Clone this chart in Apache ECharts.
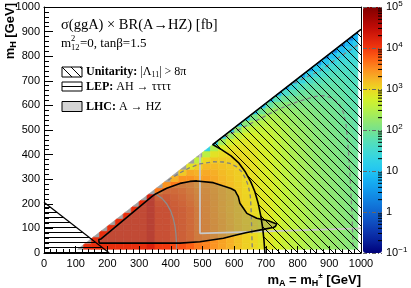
<!DOCTYPE html>
<html><head><meta charset="utf-8">
<script src="https://cdn.jsdelivr.net/npm/echarts@6/dist/echarts.min.js"></script>
<style>html,body{margin:0;padding:0;background:#fff}#c{width:411px;height:288px}</style>
</head><body><div id="c"></div>
<script>
// ---------- DATA ----------
const mACenters = [112.5,137.5,162.5,187.5,212.5,237.5,262.5,287.5,312.5,337.5,362.5,387.5,412.5,437.5,462.5,487.5,512.5,537.5,562.5,587.5,612.5,637.5,662.5,687.5,712.5,737.5,762.5,787.5,812.5,837.5,862.5,887.5,912.5,937.5,962.5,987.5];
const mHCenters = [27.5,52.5,77.5,102.5,127.5,152.5,177.5,202.5,227.5,252.5,277.5,302.5,327.5,352.5,377.5,402.5,427.5,452.5,477.5,502.5,527.5,552.5,577.5,602.5,627.5,652.5,677.5,702.5,727.5,752.5,777.5,802.5,827.5,852.5,877.5,902.5];
// log10(sigma x BR / fb), one list per mA column, from low mH upwards (-2 = grey edge cell)
const logSigmaByMA = [
 [-2],
 [4.1,-2],
 [4.1,4.1,-2],
 [4.1,4.1,4.1,-2],
 [4.1,4.1,4.1,4.1,-2],
 [4.1,4.1,4.1,4.1,4.1,-2],
 [4.1,4.1,4.1,4.1,4.1,4.1,-2],
 [4.1,4.1,4.1,4.1,4.1,4.1,4.1,-2],
 [4.1,4.1,4.1,4.1,4.1,4.1,4.1,4.1,-2],
 [4.25,4.25,4.25,4.25,4.25,4.25,4.25,4.25,4.25,-2],
 [4.0,4.0,4.0,4.0,4.0,4.0,4.0,3.95,3.85,3.6,-2],
 [4.0,4.0,4.0,4.0,4.0,4.0,4.0,3.95,3.9,3.75,3.45,-2],
 [3.9,3.9,3.9,3.9,3.9,3.9,3.9,3.86,3.82,3.75,3.6,3.25,-2],
 [3.85,3.85,3.85,3.85,3.85,3.85,3.85,3.8,3.75,3.7,3.6,3.45,3.1,-2],
 [3.75,3.75,3.75,3.75,3.75,3.75,3.75,3.7,3.65,3.6,3.55,3.45,3.3,2.9,-2],
 [3.6,3.6,3.6,3.6,3.6,3.6,3.6,3.55,3.52,3.48,3.42,3.35,3.25,3.05,2.6,-2],
 [3.55,3.55,3.54,3.53,3.52,3.51,3.5,3.49,3.47,3.45,3.42,3.37,3.3,3.2,3.0,2.55,1.3],
 [3.45,3.45,3.44,3.43,3.42,3.41,3.4,3.39,3.38,3.36,3.34,3.31,3.27,3.2,3.1,2.9,2.45,1.25],
 [3.35,3.35,3.34,3.33,3.32,3.31,3.29,3.28,3.27,3.26,3.24,3.22,3.19,3.15,3.08,2.98,2.78,2.35,1.2],
 [3.25,3.25,3.24,3.23,3.22,3.21,3.2,3.2,3.19,3.18,3.17,3.15,3.13,3.1,3.06,3.0,2.9,2.7,2.3,1.15],
 [3.15,3.15,3.14,3.13,3.12,3.12,3.11,3.11,3.1,3.1,3.09,3.08,3.07,3.05,3.02,2.98,2.92,2.82,2.62,2.22,1.1],
 [3.05,3.05,3.05,3.05,3.04,3.04,3.04,3.03,3.03,3.02,3.02,3.01,3.0,2.99,2.97,2.94,2.9,2.85,2.75,2.55,2.15,1.05],
 [3.0,3.0,2.99,2.99,2.98,2.98,2.97,2.97,2.96,2.96,2.95,2.94,2.93,2.92,2.9,2.88,2.85,2.81,2.75,2.65,2.45,2.05,1.0],
 [2.9,2.9,2.89,2.89,2.88,2.88,2.87,2.86,2.86,2.85,2.84,2.83,2.82,2.81,2.8,2.78,2.76,2.73,2.68,2.62,2.52,2.32,1.95,0.95],
 [2.85,2.85,2.84,2.84,2.83,2.83,2.82,2.81,2.81,2.8,2.79,2.78,2.77,2.76,2.74,2.73,2.71,2.69,2.66,2.61,2.54,2.44,2.24,1.88,0.9],
 [2.75,2.75,2.74,2.74,2.73,2.73,2.72,2.71,2.71,2.7,2.69,2.68,2.67,2.66,2.65,2.63,2.62,2.6,2.57,2.53,2.48,2.41,2.3,2.1,1.75,0.82],
 [2.65,2.65,2.64,2.64,2.63,2.63,2.62,2.61,2.61,2.6,2.59,2.58,2.57,2.56,2.55,2.53,2.52,2.5,2.47,2.44,2.4,2.35,2.27,2.15,1.95,1.6,0.75],
 [2.57,2.57,2.56,2.56,2.55,2.54,2.53,2.52,2.51,2.5,2.49,2.48,2.47,2.46,2.44,2.43,2.41,2.39,2.37,2.34,2.3,2.26,2.2,2.12,2.0,1.8,1.45,0.65],
 [2.5,2.5,2.49,2.49,2.48,2.47,2.46,2.45,2.44,2.43,2.42,2.41,2.4,2.38,2.37,2.35,2.34,2.32,2.3,2.27,2.24,2.2,2.16,2.1,2.02,1.9,1.7,1.35,0.6],
 [2.42,2.42,2.41,2.41,2.4,2.39,2.38,2.37,2.36,2.35,2.34,2.33,2.32,2.31,2.3,2.28,2.26,2.25,2.23,2.21,2.19,2.16,2.12,2.07,2.01,1.93,1.8,1.6,1.25,0.52],
 [2.36,2.36,2.35,2.35,2.34,2.33,2.32,2.31,2.3,2.29,2.28,2.27,2.25,2.24,2.22,2.21,2.19,2.18,2.16,2.14,2.12,2.1,2.07,2.03,1.98,1.92,1.83,1.7,1.5,1.15,0.45],
 [2.3,2.3,2.29,2.29,2.28,2.27,2.26,2.25,2.24,2.23,2.22,2.21,2.19,2.18,2.16,2.15,2.13,2.12,2.11,2.09,2.07,2.05,2.02,1.99,1.95,1.9,1.84,1.75,1.62,1.42,1.08,0.4],
 [2.25,2.25,2.24,2.24,2.23,2.22,2.21,2.2,2.19,2.18,2.17,2.16,2.15,2.13,2.12,2.1,2.09,2.07,2.05,2.04,2.02,2.0,1.98,1.95,1.92,1.88,1.83,1.77,1.68,1.55,1.35,1.0,0.35],
 [2.2,2.2,2.19,2.19,2.18,2.17,2.16,2.15,2.14,2.13,2.12,2.11,2.1,2.09,2.07,2.06,2.04,2.03,2.01,1.99,1.97,1.95,1.93,1.91,1.88,1.84,1.8,1.75,1.69,1.6,1.47,1.27,0.93,0.3],
 [2.15,2.15,2.14,2.14,2.13,2.12,2.11,2.1,2.09,2.08,2.07,2.06,2.05,2.04,2.02,2.01,1.99,1.97,1.95,1.93,1.91,1.89,1.86,1.84,1.81,1.78,1.74,1.7,1.65,1.59,1.5,1.38,1.19,0.86,0.25],
 [2.1,2.1,2.09,2.08,2.07,2.06,2.05,2.04,2.03,2.02,2.01,2.0,1.99,1.97,1.95,1.94,1.92,1.9,1.88,1.86,1.84,1.82,1.8,1.78,1.75,1.72,1.69,1.65,1.61,1.56,1.5,1.42,1.3,1.12,0.8,0.2]
];
// LHC A->HZ excluded contour
const lhcMA = [174,173,180,180,340,352,387,429,460,482,534,566,590,603,608,613,618,629,640,671,708,734,730,723,692,640,600,566,492,429,174];
const lhcMH = [40,55,57,64,229,240,263,283,291,293,286,272,262,253,240,229,202,182,161,141,131,118,108,104,96,83,71,60,46,40,40];
// Unitarity boundary (threshold edge + curve)
const uniMA = [1000,532,560,590,615,635,652,665,676,684,690,694,697];
const uniMH = [909,441,420,395,365,330,290,250,200,150,100,50,0];
// LEP boundary
const lepMA = [0,206];
const lepMH = [206,0];
// light grey frame
const boxMA = [492,492,1000];
const boxMH = [401,80,100];
// grey dashed / solid curves
const d1MA = [392,429,460,492,534,565,587,608,624,637,645,651,653,655,657];
const d1MH = [296,326,347,362,371,370,364,350,330,300,270,230,188,107,15];
const d2MA = [570,620,680,740,800,850,880,905,930,945,953,960,966,972,975];
const d2MH = [472,505,545,585,615,635,640,632,608,570,520,420,300,150,15];
const d3MA = [770,820,870,930,990];
const d3MH = [679,710,740,795,845];
const g1MA = [352,372,387,400,408,413,416,418,418];
const g1MH = [240,222,200,170,140,110,80,40,15];
// colour-bar decades and minor tick multipliers
const cbDecades = [-1,0,1,2,3,4];
const cbMinorMult = [2,3,4,5,6,7,8,9];

// ---------- STYLE / HELPERS ----------
const MZ = 91, HALF = 12.5, MA_MAX = 990, MH_MIN = 15, EDGE_GREY = '#a0a0a0';
const palette = ['#00007a','#061c96','#0c34ad','#0f4ec0','#1066d0','#117ede','#1296ea','#16aef2','#22c4f2','#30d2e6','#42dad2','#58e0b4','#76e28e','#96e86a','#b6f048','#d4f02a','#ecd822','#f6b226','#fc8c20','#fe6014','#f2380e','#da200c','#c00c06','#a00402','#820000'];

const heatData = [];
logSigmaByMA.forEach((col, j) => col.forEach((v, k) => heatData.push([mACenters[j], mHCenters[k], v])));
const zip = (a, b) => a.map((x, i) => [x, b[i]]);
const cbTicks = [];
cbDecades.forEach(d => cbMinorMult.forEach(m => cbTicks.push([0, d + Math.log10(m)])));

function clipCell(x0, x1, y0, y1) {
  const pts = [[x0,y0],[x1,y0],[x1,y1],[x0,y1]];
  const f = p => p[0] - MZ - p[1];
  const out = [];
  for (let i = 0; i < pts.length; i++) {
    const a = pts[i], b = pts[(i + 1) % pts.length];
    const fa = f(a), fb = f(b);
    if (fa >= 0) out.push(a);
    if ((fa >= 0) !== (fb >= 0)) {
      const t = fa / (fa - fb);
      out.push([a[0] + t * (b[0] - a[0]), a[1] + t * (b[1] - a[1])]);
    }
  }
  return out;
}
function hatchDiag() {
  const s = 9, c = document.createElement('canvas'); c.width = s; c.height = s;
  const g = c.getContext('2d'); g.strokeStyle = '#000'; g.lineWidth = 1;
  [-s, 0, s].forEach(o => { g.beginPath(); g.moveTo(0, o); g.lineTo(s, o + s); g.stroke(); });
  return c;
}
function hatchHoriz() {
  const c = document.createElement('canvas'); c.width = 5; c.height = 5;
  const g = c.getContext('2d'); g.fillStyle = '#000'; g.fillRect(0, 2, 5, 1);
  return c;
}
function polySeries(ma, mh, fill, z) {
  return {type: 'custom', silent: true, z, clip: true, data: [[0, 0]],
    renderItem: (p, api) => ({type: 'polygon', shape: {points: ma.map((x, i) => api.coord([x, mh[i]]))}, style: {fill: fill, stroke: null}})};
}
function lineSeries(ma, mh, color, width, type, z) {
  return {type: 'line', data: zip(ma, mh), showSymbol: false, symbol: 'none', silent: true, z, clip: true,
    lineStyle: {color, width, type}};
}

const chart = echarts.init(document.getElementById('c'), null, {renderer: 'canvas'});
const serif = 'Liberation Serif', sans = 'Liberation Sans';
const lg = (x, y, w, h, fill) => ({type: 'rect', shape: {x, y, width: w, height: h}, style: {fill, stroke: '#000', lineWidth: 1}, z: 50});
const ln = (x1, y1, x2, y2) => ({type: 'line', shape: {x1, y1, x2, y2}, style: {stroke: '#000', lineWidth: 1}, z: 51});
const tx = (x, y, text, size, extra) => Object.assign({type: 'text', z: 52, style: Object.assign({x, y, text, fill: '#000', fontSize: size, fontFamily: serif, align: 'left', verticalAlign: 'middle'}, extra || {})});

const option = {
  animation: false,
  backgroundColor: '#fff',
  textStyle: {fontFamily: sans},
  grid: [
    {left: 44, top: 7, width: 317, height: 246, show: false},
    {left: 363, top: 7, width: 19, height: 246, show: false}
  ],
  xAxis: [
    {gridIndex: 0, type: 'value', min: 0, max: 1000, interval: 100, position: 'bottom', z: 10,
     axisLine: {show: true, onZero: false, lineStyle: {color: '#000', width: 1}},
     axisTick: {show: true, inside: true, length: 7, lineStyle: {color: '#000'}},
     minorTick: {show: true, splitNumber: 5, length: 4, lineStyle: {color: '#000'}},
     axisLabel: {show: true, margin: 5, color: '#000', fontSize: 11, fontFamily: sans, showMinLabel: true, showMaxLabel: true, formatter: v => String(v)},
     splitLine: {show: false}},
    {gridIndex: 0, type: 'value', min: 0, max: 1000, position: 'top', z: 10,
     axisLine: {show: true, onZero: false, lineStyle: {color: '#000', width: 1}},
     axisTick: {show: false}, axisLabel: {show: false}, splitLine: {show: false}},
    {gridIndex: 1, type: 'value', min: 0, max: 1, show: false}
  ],
  yAxis: [
    {gridIndex: 0, type: 'value', min: 0, max: 1000, interval: 100, position: 'left', z: 10,
     axisLine: {show: true, onZero: false, lineStyle: {color: '#000', width: 1}},
     axisTick: {show: true, inside: true, length: 9, lineStyle: {color: '#000'}},
     minorTick: {show: true, splitNumber: 5, length: 5, lineStyle: {color: '#000'}},
     axisLabel: {show: true, margin: 4, color: '#000', fontSize: 11, fontFamily: sans, showMinLabel: true, showMaxLabel: true, formatter: v => String(v)},
     splitLine: {show: false}},
    {gridIndex: 0, type: 'value', min: 0, max: 1000, position: 'right', z: 10,
     axisLine: {show: true, onZero: false, lineStyle: {color: '#000', width: 1}},
     axisTick: {show: false}, axisLabel: {show: false}, splitLine: {show: false}},
    {gridIndex: 1, type: 'value', min: -1, max: 5, interval: 1, position: 'right', z: 10,
     axisLine: {show: false}, axisTick: {show: false},
     splitLine: {show: true, lineStyle: {color: '#666', width: 1, type: [4, 2, 1, 2]}},
     axisLabel: {show: true, margin: 4, color: '#000', fontSize: 11, fontFamily: sans, lineHeight: 14,
       formatter: v => { const e = Math.round(v); if (e === 0) return '1'; if (e === 1) return '10'; return '10{sup|' + (e < 0 ? '\u2212' + (-e) : e) + '}'; },
       rich: {sup: {fontSize: 8, lineHeight: 8, verticalAlign: 'top', fontFamily: sans, color: '#000'}}}}
  ],
  visualMap: {
    type: 'continuous', min: -1, max: 5, dimension: 2, seriesIndex: 0,
    inRange: {color: palette},
    left: 363, top: 7, itemWidth: 19, itemHeight: 246, padding: 0,
    calculable: false, text: null, hoverLink: false, orient: 'vertical', z: 4
  },
  series: [
    {type: 'custom', data: heatData, silent: true, z: 2, clip: true, encode: {x: 0, y: 1},
     renderItem: (p, api) => {
       const x = api.value(0), y = api.value(1), v = api.value(2);
       const poly = clipCell(x - HALF, Math.min(x + HALF, MA_MAX), Math.max(y - HALF, MH_MIN), y + HALF);
       if (poly.length < 3) return null;
       const c = v < -1 ? EDGE_GREY : api.visual('color');
       return {type: 'polygon', shape: {points: poly.map(q => api.coord(q))}, style: {fill: c, stroke: c, lineWidth: 0.6}};
     }},
    polySeries(lhcMA, lhcMH, 'rgba(125,125,125,0.36)', 3),
    lineSeries(boxMA, boxMH, '#c8c8c8', 1.8, 'solid', 4),
    lineSeries(g1MA, g1MH, '#8c8c8c', 1.3, 'solid', 4),
    lineSeries(d1MA, d1MH, '#808080', 1.3, [4, 3], 4),
    lineSeries(d2MA, d2MH, '#808080', 1.3, [4, 3], 4),
    lineSeries(d3MA, d3MH, '#808080', 1.3, [4, 3], 4),
    polySeries(uniMA.concat([1000]), uniMH.concat([0]), {image: hatchDiag(), repeat: 'repeat'}, 5),
    polySeries(lepMA.concat([0]), lepMH.concat([0]), {image: hatchHoriz(), repeat: 'repeat'}, 5),
    lineSeries(lhcMA, lhcMH, '#000', 1.6, 'solid', 6),
    lineSeries(uniMA, uniMH, '#000', 1.6, 'solid', 6),
    lineSeries(lepMA, lepMH, '#000', 1.2, 'solid', 6),
    {type: 'custom', xAxisIndex: 2, yAxisIndex: 2, data: cbTicks, silent: true, z: 12,
     renderItem: (p, api) => { const pt = api.coord([1, api.value(1)]); return {type: 'line', shape: {x1: pt[0] - 4, y1: pt[1], x2: pt[0], y2: pt[1]}, style: {stroke: '#000', lineWidth: 1}}; }}
  ],
  graphic: [
    tx(61, 25, 'σ(ggA) × BR(A→HZ) [fb]', 14.5),
    tx(61, 44, 'm', 13),
    tx(71, 39, '2', 8.5),
    tx(71, 48, '12', 8.5),
    tx(80, 44, '=0, tanβ=1.5', 13),
    lg(62, 67, 20, 10, '#fff'),
    ln(62, 67, 72, 77), ln(71, 67, 81, 77), ln(80, 67, 82, 69),
    lg(62, 82, 20, 9, '#fff'),
    ln(62, 86.5, 82, 86.5),
    lg(62, 101.5, 20, 10, '#d4d4d4'),
    tx(86, 72, '{b|Unitarity:} |Λ{s|11}| > 8π', 12, {lineHeight: 14, rich: {b: {fontWeight: 'bold', fontSize: 12, fontFamily: serif, lineHeight: 14}, s: {fontSize: 8, fontFamily: serif, lineHeight: 8, verticalAlign: 'bottom'}}}),
    tx(86, 86.5, '{b|LEP:} AH → ττττ', 12, {lineHeight: 14, rich: {b: {fontWeight: 'bold', fontSize: 12, fontFamily: serif, lineHeight: 14}}}),
    tx(86, 106.5, '{b|LHC:} A → HZ', 12, {lineHeight: 14, rich: {b: {fontWeight: 'bold', fontSize: 12, fontFamily: serif, lineHeight: 14}}}),
    {type: 'text', z: 52, style: {x: 361, y: 280, align: 'right', verticalAlign: 'middle', fill: '#000', fontFamily: sans, fontWeight: 'bold', fontSize: 13, lineHeight: 16,
      text: '{m|m}{s|A}{m| = m}{s|H}{p|±}{m| [GeV]}',
      rich: {m: {fontSize: 13, fontWeight: 'bold', fontFamily: sans, lineHeight: 16}, s: {fontSize: 9, fontWeight: 'bold', fontFamily: sans, lineHeight: 9, verticalAlign: 'bottom'}, p: {fontSize: 8, fontWeight: 'bold', fontFamily: sans, lineHeight: 8, verticalAlign: 'top'}}}},
    {type: 'text', z: 52, x: 10, y: 3, rotation: Math.PI / 2, style: {x: 0, y: 0, align: 'right', verticalAlign: 'middle', fill: '#000', fontFamily: sans, fontWeight: 'bold', fontSize: 13, lineHeight: 16,
      text: '{m|m}{s|H}{m| [GeV]}',
      rich: {m: {fontSize: 13, fontWeight: 'bold', fontFamily: sans, lineHeight: 16}, s: {fontSize: 9, fontWeight: 'bold', fontFamily: sans, lineHeight: 9, verticalAlign: 'bottom'}}}}
  ]
};
chart.setOption(option);
</script></body></html>
